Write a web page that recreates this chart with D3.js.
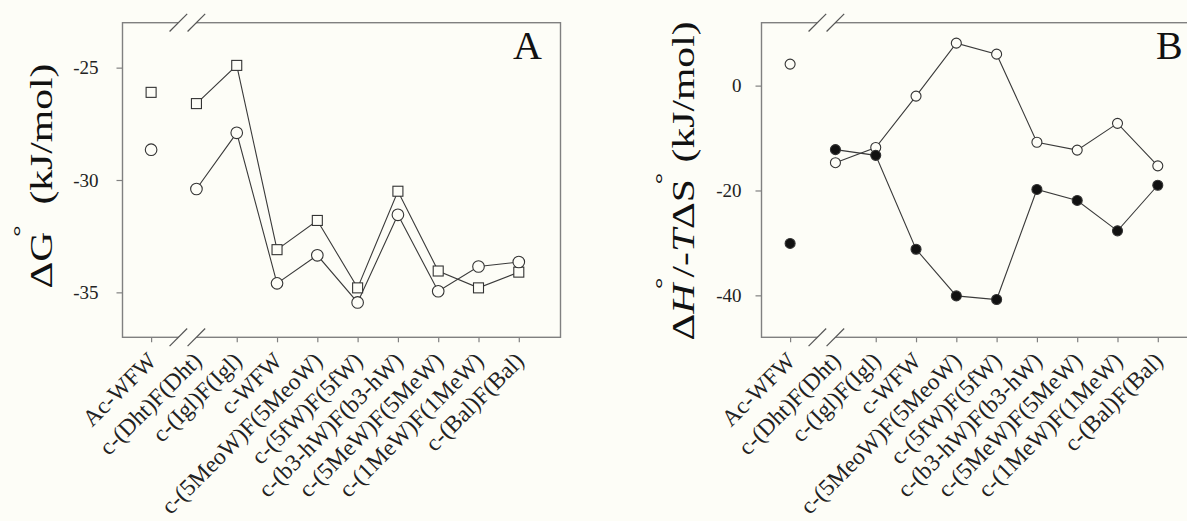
<!DOCTYPE html>
<html>
<head>
<meta charset="utf-8">
<script src="https://cdn.jsdelivr.net/npm/d3@7"></script>
<style>
  body { margin: 0; background: #fdfdf7; }
  svg { display: block; font-family: "Liberation Serif", "Times New Roman", serif; }
</style>
</head>
<body>
<svg id="chart" width="1187" height="521"></svg>
<script>
const categories = ['Ac-WFW', 'c-(Dht)F(Dht)', 'c-(Igl)F(Igl)', 'c-WFW', 'c-(5MeoW)F(5MeoW)',
  'c-(5fW)F(5fW)', 'c-(b3-hW)F(b3-hW)', 'c-(5MeW)F(5MeW)', 'c-(1MeW)F(1MeW)', 'c-(Bal)F(Bal)'];

// panel A: ΔG° (kJ/mol)
const dGSquares = [-26.1, -26.6, -24.9, -33.1, -31.8, -34.8, -30.5, -34.05, -34.8, -34.1];
const dGCircles = [-28.65, -30.4, -27.9, -34.6, -33.35, -35.45, -31.55, -34.95, -33.85, -33.65];
const ticksA = [-25, -30, -35];

// panel B: ΔH° / -TΔS° (kJ/mol)
const openCircles = [4.1, -14.7, -11.8, -2.0, 8.1, 6.0, -10.8, -12.3, -7.2, -15.3];
const filledCircles = [-30.1, -12.2, -13.3, -31.2, -40.1, -40.8, -19.8, -21.9, -27.7, -19.0];
const ticksB = [0, -20, -40];

const bg = '#fdfdf7';
const svg = d3.select('#chart');
const plotTop = 22.7, plotBottom = 337.3, plotW = 438;

// Ac-WFW sits a little apart from the rest (axis break)
const pos = i => i === 0 ? 0 : i + 0.125;

function drawPanel(cfg) {
  const g = svg.append('g');
  const x = d3.scaleLinear().domain([-0.71, 10.16]).range([cfg.left, cfg.left + plotW]);
  const y = d3.scaleLinear().domain(cfg.yDomain).range([plotBottom, plotTop]);

  // frame
  g.append('rect')
    .attr('x', cfg.left).attr('y', plotTop)
    .attr('width', plotW).attr('height', plotBottom - plotTop)
    .attr('fill', 'none').attr('stroke', '#808080').attr('stroke-width', 1.4);

  // y axis (plain hyphen for negatives, like the original)
  const ya = g.append('g')
    .attr('transform', `translate(${cfg.left},0)`)
    .call(d3.axisLeft(y).tickValues(cfg.yTicks).tickFormat(d => String(d))
      .tickSize(6).tickPadding(cfg.pad))
    .attr('font-family', null);
  ya.select('.domain').remove();
  ya.selectAll('line').attr('stroke', '#808080').attr('stroke-width', 1.2);
  ya.selectAll('text').attr('font-size', 19).attr('fill', '#222');

  // x axis
  const xa = g.append('g')
    .attr('transform', `translate(0,${plotBottom})`)
    .call(d3.axisBottom(x).tickValues(categories.map((c, i) => pos(i)))
      .tickFormat((d, i) => categories[i]).tickSize(5).tickPadding(0))
    .attr('font-family', null);
  xa.select('.domain').remove();
  xa.selectAll('line').attr('stroke', '#808080').attr('stroke-width', 1.2)
    .attr('opacity', (d, i) => i === 1 ? 0 : 1);
  xa.selectAll('text')
    .attr('font-size', 23.5).attr('fill', '#222')
    .attr('text-anchor', 'end')
    .attr('x', 0).attr('y', 0).attr('dy', 0)
    .attr('transform', 'translate(6,25) rotate(-45)');

  // axis break marks
  const bx = x(0.9);
  [plotTop, plotBottom].forEach(yy => {
    const c1 = bx - 9, c2 = bx + 9;
    g.append('polygon')
      .attr('points', `${c1 - 3},${yy + 3} ${c1 + 3},${yy - 3} ${c2 + 3},${yy - 3} ${c2 - 3},${yy + 3}`)
      .attr('fill', bg);
    [c1, c2].forEach(c => {
      g.append('line')
        .attr('x1', c - 8.8).attr('y1', yy + 8.8)
        .attr('x2', c + 8.8).attr('y2', yy - 8.8)
        .attr('stroke', '#555').attr('stroke-width', 1.2);
    });
  });

  const line = d3.line().x(d => x(pos(d.i))).y(d => y(d.v));
  cfg.series.forEach(s => {
    const pts = s.values.map((v, i) => ({ i, v }));
    g.append('path')
      .datum(pts.slice(1))
      .attr('d', line)
      .attr('fill', 'none').attr('stroke', '#3a3a3a').attr('stroke-width', 1.1);
  });
  cfg.series.forEach(s => {
    const pts = s.values.map((v, i) => ({ i, v }));
    if (s.shape === 'square') {
      g.selectAll(null).data(pts).join('rect')
        .attr('x', d => x(pos(d.i)) - 5).attr('y', d => y(d.v) - 5)
        .attr('width', 10).attr('height', 10)
        .attr('fill', bg).attr('stroke', '#333').attr('stroke-width', 1.1);
    } else {
      g.selectAll(null).data(pts).join('circle')
        .attr('cx', d => x(pos(d.i))).attr('cy', d => y(d.v))
        .attr('r', s.r)
        .attr('fill', s.filled ? '#111' : bg).attr('stroke', '#333').attr('stroke-width', 1.1);
    }
  });

  // panel letter
  g.append('text')
    .attr('x', cfg.letterX).attr('y', 58.5)
    .attr('font-size', 40).attr('fill', '#111')
    .text(cfg.letter);

  // y title, stretched along its length like the original
  const t = g.append('text')
    .attr('transform', `translate(${cfg.titleX},${cfg.titleY}) rotate(-90) scale(1.3,1)`)
    .attr('text-anchor', 'middle')
    .attr('font-size', 32).attr('fill', '#111');
  cfg.title(t);
}

drawPanel({
  left: 122.5, yDomain: [-37, -23], yTicks: ticksA, pad: 18,
  series: [
    { values: dGSquares, shape: 'square' },
    { values: dGCircles, shape: 'circle', r: 5.8, filled: false }
  ],
  letter: 'A', letterX: 513,
  titleX: 52, titleY: 176,
  title: t => {
    t.append('tspan').text('ΔG');
    t.append('tspan').attr('font-size', 22).attr('dx', -4).attr('dy', -24).text('°');
    t.append('tspan').attr('dy', 24).text('\u00a0\u00a0(kJ/mol)');
  }
});

drawPanel({
  left: 761.5, yDomain: [-48, 12], yTicks: ticksB, pad: 14,
  series: [
    { values: openCircles, shape: 'circle', r: 5, filled: false },
    { values: filledCircles, shape: 'circle', r: 5, filled: true }
  ],
  letter: 'B', letterX: 1156,
  titleX: 694, titleY: 181,
  title: t => {
    t.append('tspan').text('Δ');
    t.append('tspan').attr('font-style', 'italic').text('H');
    t.append('tspan').attr('font-size', 22).attr('dx', -4).attr('dy', -24).text('°');
    t.append('tspan').attr('dy', 24).text('/-');
    t.append('tspan').attr('font-style', 'italic').text('T');
    t.append('tspan').text('ΔS');
    t.append('tspan').attr('font-size', 22).attr('dx', -4).attr('dy', -24).text('°');
    t.append('tspan').attr('dy', 24).text('\u00a0(kJ/mol)');
  }
});
</script>
</body>
</html>
